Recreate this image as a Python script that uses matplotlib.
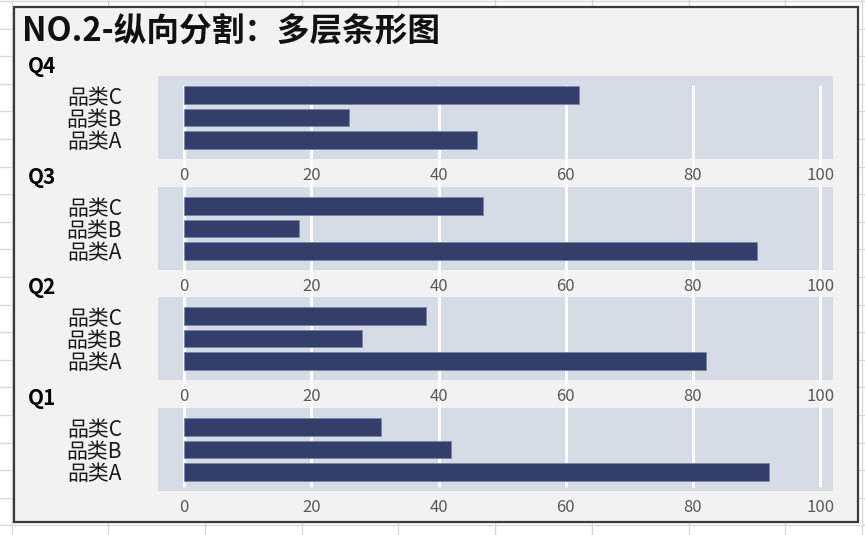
import matplotlib.pyplot as plt
from matplotlib.patches import Rectangle

plt.rcParams['font.family'] = ['Noto Sans CJK SC', 'DejaVu Sans']

# data
quarters = ['Q4', 'Q3', 'Q2', 'Q1']
categories = ['品类A', '品类B', '品类C']
values = {
    'Q4': [46, 26, 62],
    'Q3': [90, 18, 47],
    'Q2': [82, 28, 38],
    'Q1': [92, 42, 31],
}
xticks = [0, 20, 40, 60, 80, 100]
title = 'NO.2-纵向分割：多层条形图'

W, H = 865, 535
bar_color = '#343e6a'
panel_color = '#d6dce5'
chart_bg = '#f2f2f2'
tick_color = '#595959'

fig = plt.figure(figsize=(W / 100, H / 100), dpi=100)
fig.patch.set_facecolor('white')


def fx(px):
    return px / W


def fy(py):
    return 1 - py / H


# background: spreadsheet grid + chart box (pixel coords)
bg = fig.add_axes([0, 0, 1, 1], zorder=0)
bg.set_xlim(0, W)
bg.set_ylim(H, 0)
bg.axis('off')
for x in [12, 108, 205, 302, 398, 495, 592, 689, 785, 862]:
    bg.axvline(x, color='#d9d9d9', lw=1)
y = 1
while y < H:
    bg.axhline(y, color='#d9d9d9', lw=1)
    y += 27.6
bg.add_patch(Rectangle((14, 7), 844, 515, facecolor=chart_bg,
                       edgecolor='#3a3a3a', lw=1.6, zorder=3))

# panels
left, right = 158, 833
panel_tops = [76, 187, 297, 408]
panel_h = 83
xlim = (-4.1, 102)

# grey bands and white gridlines live in one axes underneath the bars
gax = fig.add_axes([fx(left), fy(491), fx(right - left), (491 - 76) / H], zorder=1)
gax.set_xlim(*xlim)
gax.set_ylim(491, 76)
gax.axis('off')
for top in panel_tops:
    gax.axhspan(top, top + panel_h, color=panel_color, lw=0)
gax.vlines(xticks, 85, 487, color='white', lw=2)

for q, top in zip(quarters, panel_tops):
    ax = fig.add_axes([fx(left), fy(top + panel_h), fx(right - left), panel_h / H], zorder=2)
    ax.set_facecolor('none')
    ax.barh(range(len(categories)), values[q], height=0.8, color=bar_color,
            edgecolor='#7a84a6', lw=0.6)
    ax.set_xlim(*xlim)
    ax.set_ylim(-0.85, 2.85)
    ax.set_xticks(xticks)
    ax.set_yticks(range(len(categories)))
    ax.set_yticklabels(categories, fontsize=15, color='#1a1a1a')
    ax.tick_params(axis='x', length=0, pad=6, labelsize=12, labelcolor=tick_color)
    ax.tick_params(axis='y', length=0, pad=26)
    for s in ax.spines.values():
        s.set_visible(False)
    fig.text(fx(28), fy(top - 9.5), q, fontsize=15, fontweight='bold',
             ha='left', va='center', zorder=5)

fig.text(fx(22), fy(32), title, fontsize=23.5, fontweight='bold',
         ha='left', va='center', color='#111111')

fig.savefig('out.png', dpi=100, facecolor=fig.get_facecolor())
